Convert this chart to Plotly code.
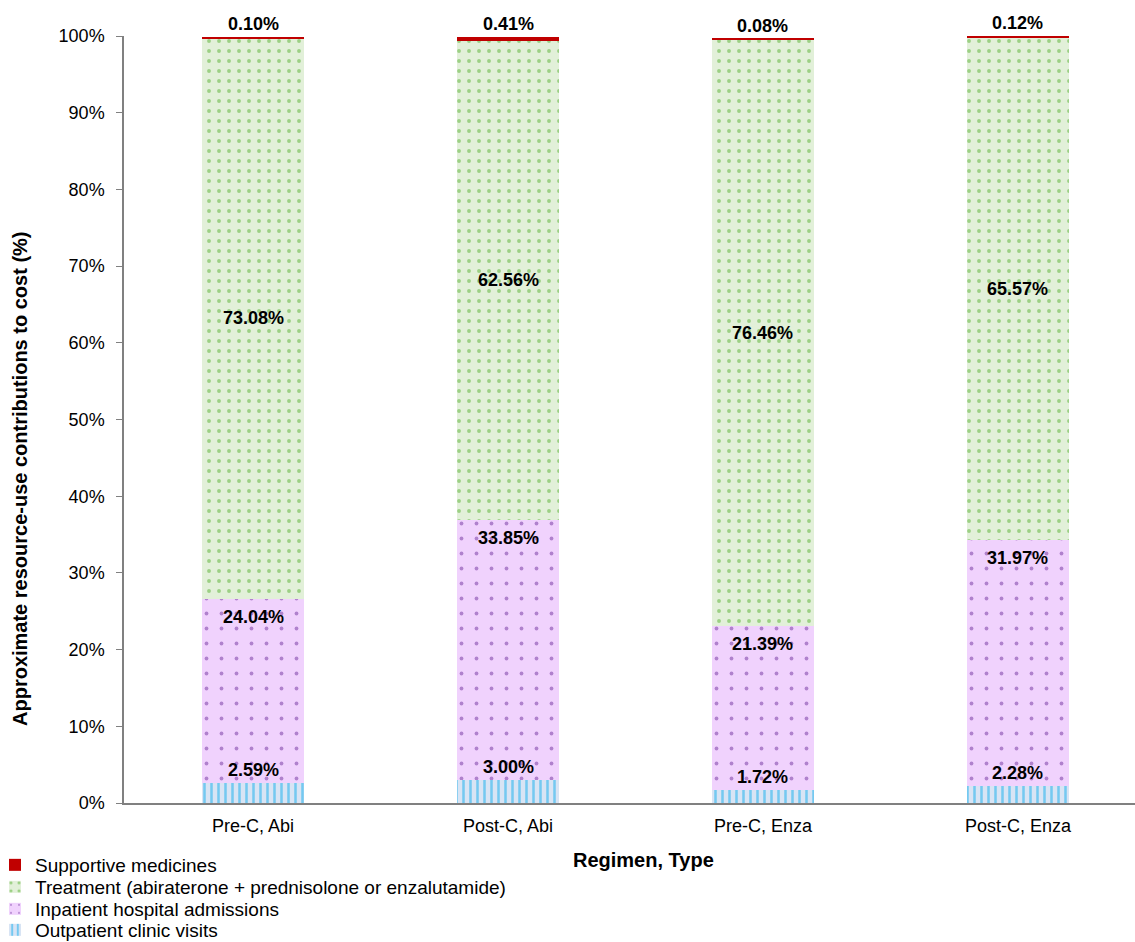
import plotly.graph_objects as go

categories = ["Pre-C, Abi", "Post-C, Abi", "Pre-C, Enza", "Post-C, Enza"]
outpatient = [2.59, 3.00, 1.72, 2.28]
inpatient = [24.04, 33.85, 21.39, 31.97]
treatment = [73.08, 62.56, 76.46, 65.57]
supportive = [0.10, 0.41, 0.08, 0.12]

series_names = [
    "Outpatient clinic visits",
    "Inpatient hospital admissions",
    "Treatment (abiraterone + prednisolone or enzalutamide)",
    "Supportive medicines",
]

FONT = "Arial, Liberation Sans, sans-serif"
W, H = 1135, 942
ML, MT, MB = 124, 36, 139
PW, PH = W - ML, H - MT - MB

fig = go.Figure()
fig.add_trace(go.Bar(
    x=categories, y=outpatient, name=series_names[0], width=0.4, legend="legend4",
    marker=dict(color="#D8E4F4", line=dict(width=0),
                pattern=dict(shape="|", fgcolor="#0FAEEE", bgcolor="#D8E4F4", size=7, solidity=0.36)),
))
fig.add_trace(go.Bar(
    x=categories, y=inpatient, name=series_names[1], width=0.4, legend="legend3",
    marker=dict(color="#F0D2FD", line=dict(width=0),
                pattern=dict(shape=".", fgcolor="#70309E", bgcolor="#F0D2FD", size=15, solidity=0.05)),
))
fig.add_trace(go.Bar(
    x=categories, y=treatment, name=series_names[2], width=0.4, legend="legend2",
    marker=dict(color="#E2F0D9", line=dict(width=0),
                pattern=dict(shape=".", fgcolor="#55B030", bgcolor="#E2F0D9", size=10, solidity=0.12)),
))
fig.add_trace(go.Bar(
    x=categories, y=supportive, name=series_names[3], width=0.4, legend="legend",
    marker=dict(color="#C00000", line=dict(width=0)),
))

annotations = []
lab_font = dict(family=FONT, size=18, color="black")
for i, c in enumerate(categories):
    o, p, t, s = outpatient[i], inpatient[i], treatment[i], supportive[i]
    annotations.append(dict(x=c, y=o, text=f"<b>{o:.2f}%</b>", showarrow=False,
                            yanchor="bottom", yshift=1, font=lab_font, xref="x", yref="y"))
    annotations.append(dict(x=c, y=o + p, text=f"<b>{p:.2f}%</b>", showarrow=False,
                            yanchor="top", yshift=-6, font=lab_font, xref="x", yref="y"))
    annotations.append(dict(x=c, y=o + p + t / 2, text=f"<b>{t:.2f}%</b>", showarrow=False,
                            yanchor="middle", font=lab_font, xref="x", yref="y"))
    annotations.append(dict(x=c, y=o + p + t + s, text=f"<b>{s:.2f}%</b>", showarrow=False,
                            yanchor="bottom", yshift=1, font=lab_font, xref="x", yref="y"))

# axis titles as annotations (positioned like the reference)
annotations.append(dict(
    text="<b>Approximate resource-use contributions to cost (%)</b>", textangle=-90,
    x=(20 - ML) / PW, y=(H - MB - 479) / PH, xref="paper", yref="paper",
    xanchor="center", yanchor="middle", showarrow=False,
    font=dict(family=FONT, size=20, color="black"),
))
annotations.append(dict(
    text="<b>Regimen, Type</b>",
    x=(643 - ML) / PW, y=(H - MB - 860) / PH, xref="paper", yref="paper",
    xanchor="center", yanchor="middle", showarrow=False,
    font=dict(family=FONT, size=20, color="black"),
))


def leg(ypix):
    return dict(
        x=(-5 - ML) / PW, y=1 - ypix / H, xanchor="left", yanchor="middle",
        xref="paper", yref="container", orientation="v",
        font=dict(family=FONT, size=19, color="black"),
        itemwidth=30, bgcolor="rgba(0,0,0,0)", borderwidth=0,
    )


fig.update_layout(
    barmode="stack",
    width=W, height=H,
    margin=dict(l=ML, r=0, t=MT, b=MB, autoexpand=False),
    paper_bgcolor="white", plot_bgcolor="white",
    font=dict(family=FONT, size=18, color="black"),
    annotations=annotations,
    showlegend=True,
    legend=leg(865),
    legend2=leg(887),
    legend3=leg(909),
    legend4=leg(930),
    xaxis=dict(
        range=[-0.506, 3.459], showline=True, linecolor="#808080", linewidth=1.5,
        ticks="", showgrid=False, tickfont=dict(size=18), ticklabelstandoff=6,
    ),
    yaxis=dict(
        range=[0, 100], dtick=10, ticksuffix="%", showline=True, linecolor="#808080",
        linewidth=1.5, ticks="outside", ticklen=6, tickcolor="#808080", showgrid=False,
        tickfont=dict(size=18), ticklabelstandoff=8, zeroline=False,
    ),
)

fig.write_html("out.html")
